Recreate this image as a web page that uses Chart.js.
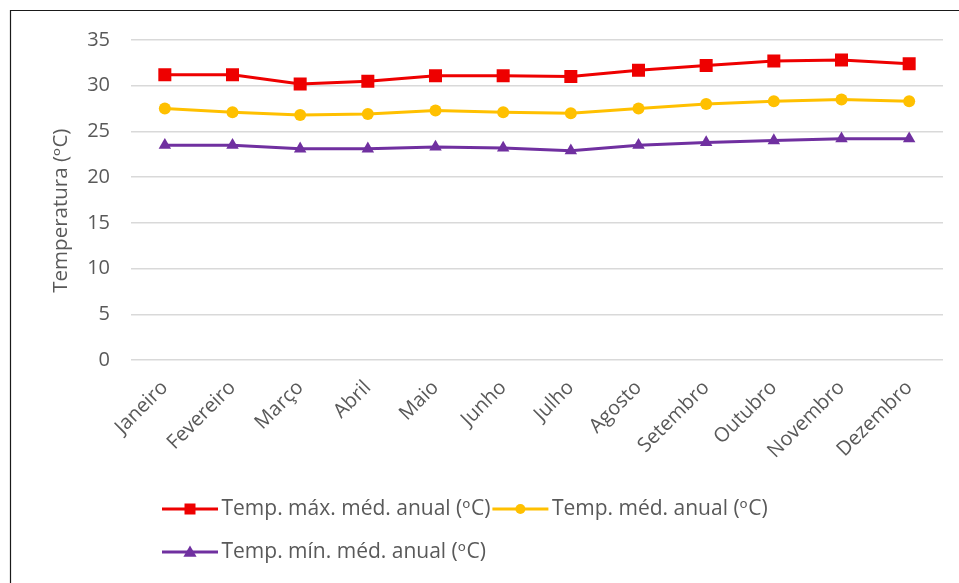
<!DOCTYPE html>
<html lang="pt">
<head>
<meta charset="utf-8">
<title>Temperaturas médias mensais</title>
<script src="https://cdn.jsdelivr.net/npm/chart.js@4.4.1/dist/chart.umd.min.js"></script>
<style>
  html, body { margin: 0; padding: 0; background: #ffffff; }
  #wrap { width: 959px; height: 583px; }
</style>
</head>
<body>
<div id="wrap"><canvas id="chart" width="959" height="583"></canvas></div>
<script>
// Meses do ano
const months = ['Janeiro', 'Fevereiro', 'Março', 'Abril', 'Maio', 'Junho',
                'Julho', 'Agosto', 'Setembro', 'Outubro', 'Novembro', 'Dezembro'];

// Temperaturas (ºC)
const tempMax = [31.2, 31.2, 30.2, 30.5, 31.1, 31.1, 31.0, 31.7, 32.2, 32.7, 32.8, 32.4];
const tempMed = [27.5, 27.1, 26.8, 26.9, 27.3, 27.1, 27.0, 27.5, 28.0, 28.3, 28.5, 28.3];
const tempMin = [23.5, 23.5, 23.1, 23.1, 23.3, 23.2, 22.9, 23.5, 23.8, 24.0, 24.2, 24.2];

const seriesNames = ['Temp. máx. méd. anual (ᵒC)', 'Temp. méd. anual (ᵒC)', 'Temp. mín. méd. anual (ᵒC)'];
const axisTitle = 'Temperatura (ᵒC)\u00a0\u00a0\u00a0\u00a0';

// Eixo Y: 0 a 35, passo 5
const yMin = 0, yMax = 35, yStep = 5;

const FONT = "'Open Sans', 'DejaVu Sans', sans-serif";
const TEXT = '#595959';
const RED = '#ee0000', GOLD = '#ffc000', PURPLE = '#7030a0';

// Desenha um marcador (quadrado, círculo ou triângulo) centrado em x, y
function drawMarker(ctx, style, x, y, s, color) {
  ctx.fillStyle = color;
  ctx.beginPath();
  if (style === 'rect') {
    ctx.rect(x - s / 2, y - s / 2, s, s);
  } else if (style === 'circle') {
    ctx.arc(x, y, s / 2, 0, Math.PI * 2);
  } else {
    ctx.moveTo(x, y - s * 0.55);
    ctx.lineTo(x + s * 0.55, y + s * 0.4);
    ctx.lineTo(x - s * 0.55, y + s * 0.4);
    ctx.closePath();
  }
  ctx.fill();
}

// Moldura do gráfico e símbolos da legenda (linha com marcador)
const LEGEND_LINE = 56;
const framePlugin = {
  id: 'frame',
  beforeDraw(chart) {
    const ctx = chart.ctx;
    ctx.save();
    ctx.fillStyle = '#ffffff';
    ctx.fillRect(0, 0, chart.width, chart.height);
    ctx.strokeStyle = '#1a1a1a';
    ctx.lineWidth = 1.2;
    ctx.beginPath();
    ctx.moveTo(10.5, chart.height);
    ctx.lineTo(10.5, 10.5);
    ctx.lineTo(chart.width, 10.5);
    ctx.stroke();
    ctx.restore();
  },
  afterLayout(chart) {
    // a legenda começa alinhada sob o eixo
    const lg = chart.legend;
    if (lg) lg.left = 160;
  },
  afterDraw(chart) {
    const lg = chart.legend;
    if (!lg || !lg.legendHitBoxes) return;
    const ctx = chart.ctx;
    ctx.save();
    lg.legendHitBoxes.forEach((hb, i) => {
      const ds = chart.data.datasets[i];
      const cy = hb.top + hb.height / 2;
      ctx.strokeStyle = ds.borderColor;
      ctx.lineWidth = 3;
      ctx.beginPath();
      ctx.moveTo(hb.left, cy);
      ctx.lineTo(hb.left + LEGEND_LINE, cy);
      ctx.stroke();
      const sz = ds.pointStyle === 'rect' ? 11 : (ds.pointStyle === 'circle' ? 10 : 12);
      drawMarker(ctx, ds.pointStyle, hb.left + LEGEND_LINE / 2, cy, sz, ds.pointBackgroundColor);
    });
    ctx.restore();
  }
};

function lineSeries(label, data, color, style, radius) {
  return {
    label, data,
    borderColor: color,
    backgroundColor: color,
    pointBackgroundColor: color,
    pointBorderColor: color,
    pointBorderWidth: 0,
    borderWidth: 3,
    pointStyle: style,
    pointRadius: radius,
    pointHoverRadius: radius,
    tension: 0,
    fill: false
  };
}

new Chart(document.getElementById('chart'), {
  type: 'line',
  data: {
    labels: months,
    datasets: [
      lineSeries(seriesNames[0], tempMax, RED, 'rect', 9.2),
      lineSeries(seriesNames[1], tempMed, GOLD, 'circle', 6),
      lineSeries(seriesNames[2], tempMin, PURPLE, 'triangle', 7.2)
    ]
  },
  options: {
    responsive: false,
    animation: false,
    devicePixelRatio: 1,
    layout: { padding: { left: 10, right: 16, top: 40, bottom: 0.5 } },
    plugins: {
      tooltip: { enabled: false },
      legend: {
        position: 'bottom',
        align: 'start',
        fullSize: false,
        labels: {
          boxWidth: 49,
          boxHeight: 41,
          padding: 2,
          color: TEXT,
          font: { family: FONT, size: 21 },
          generateLabels(chart) {
            return chart.data.datasets.map((ds, i) => ({
              text: ds.label,
              fillStyle: 'rgba(0,0,0,0)',
              strokeStyle: 'rgba(0,0,0,0)',
              lineWidth: 0,
              hidden: false,
              fontColor: TEXT,
              datasetIndex: i
            }));
          }
        }
      }
    },
    scales: {
      x: {
        offset: true,
        grid: { display: false, drawTicks: false },
        border: { display: false },
        ticks: {
          color: TEXT,
          font: { family: FONT, size: 20 },
          minRotation: 45,
          maxRotation: 45,
          padding: 16
        },
        afterFit(scale) { scale.height = 126.5; }
      },
      y: {
        min: yMin,
        max: yMax,
        ticks: {
          stepSize: yStep,
          color: TEXT,
          font: { family: FONT, size: 20 },
          padding: 21
        },
        grid: { color: '#d9d9d9', lineWidth: 1.5, drawTicks: false },
        border: { display: false },
        title: {
          display: true,
          text: axisTitle,
          color: TEXT,
          font: { family: FONT, size: 20.5, weight: 'normal' },
          padding: { top: 38.7, bottom: 0 }
        },
        afterFit(scale) { scale.width = 121; }
      }
    }
  },
  plugins: [framePlugin]
});
</script>
</body>
</html>
